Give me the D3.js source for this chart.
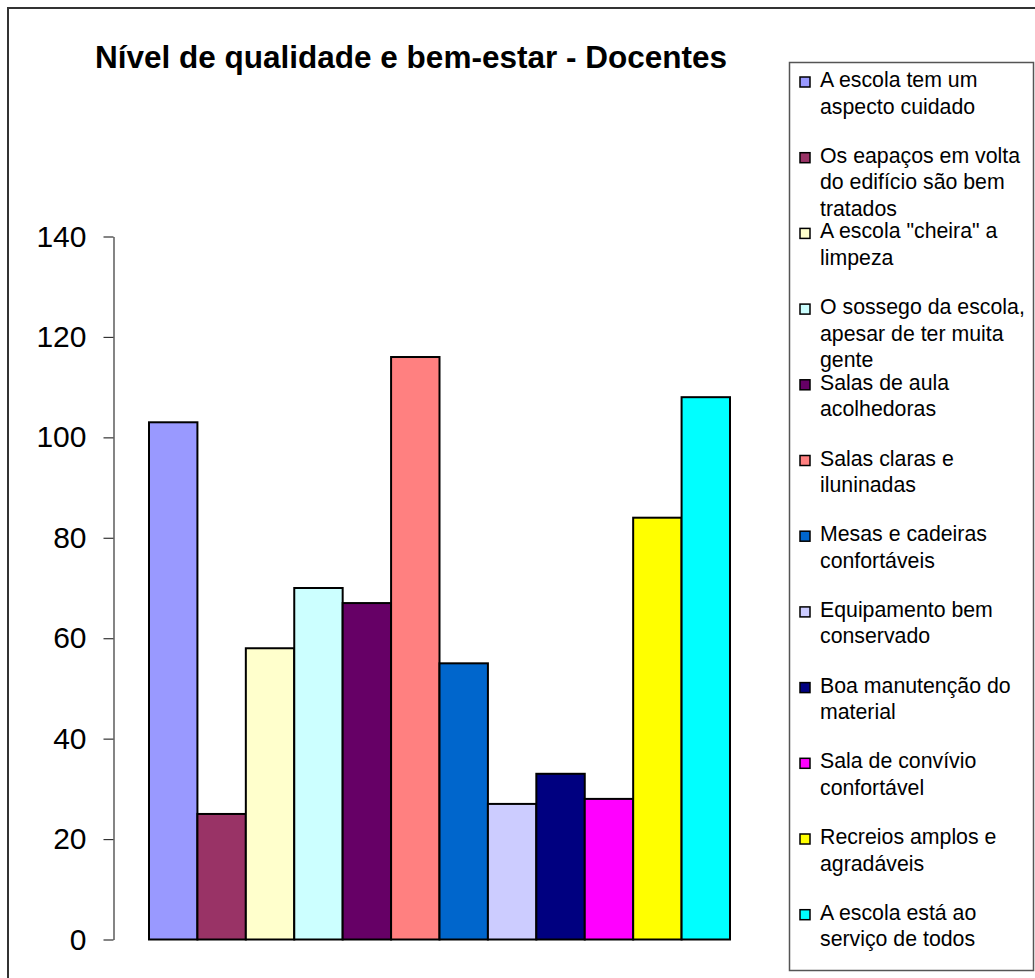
<!DOCTYPE html>
<html>
<head>
<meta charset="utf-8">
<script src="https://cdn.jsdelivr.net/npm/d3@7"></script>
<style>
  html, body { margin: 0; padding: 0; background: #fff; }
  svg { display: block; font-family: Arial, "Liberation Sans", sans-serif; }
</style>
</head>
<body>
<svg id="chart" width="1035" height="978"></svg>
<script>
// Survey results: quality and well-being as rated by teaching staff
const title = "Nível de qualidade e bem-estar - Docentes";

const categories = [
  "A escola tem um aspecto cuidado",
  "Os eapaços em volta do edifício são bem tratados",
  "A escola \"cheira\" a limpeza",
  "O sossego da escola, apesar de ter muita gente",
  "Salas de aula acolhedoras",
  "Salas claras e iluninadas",
  "Mesas e cadeiras confortáveis",
  "Equipamento bem conservado",
  "Boa manutenção do material",
  "Sala de convívio confortável",
  "Recreios amplos e agradáveis",
  "A escola está ao serviço de todos"
];

// Legend text broken into lines
const legendLines = [
  ["A escola tem um", "aspecto cuidado"],
  ["Os eapaços em volta", "do edifício são bem", "tratados"],
  ["A escola \"cheira\" a", "limpeza"],
  ["O sossego da escola,", "apesar de ter muita", "gente"],
  ["Salas de aula", "acolhedoras"],
  ["Salas claras e", "iluninadas"],
  ["Mesas e cadeiras", "confortáveis"],
  ["Equipamento bem", "conservado"],
  ["Boa manutenção do", "material"],
  ["Sala de convívio", "confortável"],
  ["Recreios amplos e", "agradáveis"],
  ["A escola está ao", "serviço de todos"]
];

const values = [103, 25, 58, 70, 67, 116, 55, 27, 33, 28, 84, 108];

const colors = ["#9999FF", "#993366", "#FFFFCC", "#CCFFFF", "#660066", "#FF8080",
                "#0066CC", "#CCCCFF", "#000080", "#FF00FF", "#FFFF00", "#00FFFF"];

const yTicks = [0, 20, 40, 60, 80, 100, 120, 140];

const svg = d3.select("#chart");

// Chart frame
svg.append("rect")
  .attr("x", 8).attr("y", 8)
  .attr("width", 1100).attr("height", 1100)
  .attr("fill", "none")
  .attr("stroke", "#333")
  .attr("stroke-width", 2);

// Title
svg.append("text")
  .attr("x", 411).attr("y", 68)
  .attr("text-anchor", "middle")
  .attr("font-size", 31.5)
  .attr("font-weight", "bold")
  .attr("fill", "#000")
  .text(title);

// Scales
const y = d3.scaleLinear().domain([0, 140]).range([939.5, 236.5]);
const x = d3.scaleBand().domain(d3.range(categories.length)).range([149, 730]).padding(0);

// Y axis
const yAxis = d3.axisLeft(y).tickValues(yTicks).tickSize(10).tickPadding(17).tickSizeOuter(0);
const gy = svg.append("g").attr("transform", "translate(113.5,0)").call(yAxis);
gy.select(".domain").attr("stroke", "#333").attr("stroke-width", 1.2);
gy.selectAll(".tick line").attr("stroke", "#333").attr("stroke-width", 1.2);
gy.selectAll(".tick text")
  .attr("font-size", 30)
  .attr("font-family", "Arial, 'Liberation Sans', sans-serif")
  .attr("fill", "#000");

// Bars
svg.append("g")
  .selectAll("rect")
  .data(values)
  .join("rect")
  .attr("x", (d, i) => x(i))
  .attr("y", d => y(d))
  .attr("width", x.bandwidth())
  .attr("height", d => y(0) - y(d))
  .attr("fill", (d, i) => colors[i])
  .attr("stroke", "#000")
  .attr("stroke-width", 2);

// Legend
svg.append("rect")
  .attr("x", 789.5).attr("y", 62.5)
  .attr("width", 244).attr("height", 908)
  .attr("fill", "#fff")
  .attr("stroke", "#555")
  .attr("stroke-width", 1.5);

const legend = svg.append("g");
const entry = legend.selectAll("g")
  .data(categories)
  .join("g")
  .attr("transform", (d, i) => `translate(0,${87 + i * 75.7})`);

entry.append("rect")
  .attr("x", 800).attr("y", -10)
  .attr("width", 10).attr("height", 10)
  .attr("fill", (d, i) => colors[i])
  .attr("stroke", "#000")
  .attr("stroke-width", 1.5);

entry.append("text")
  .attr("x", 820)
  .attr("font-size", 21.3)
  .attr("fill", "#000")
  .each(function (d, i) {
    d3.select(this).selectAll("tspan")
      .data(legendLines[i])
      .join("tspan")
      .attr("x", 820)
      .attr("dy", (t, j) => j === 0 ? 0 : 26.5)
      .text(t => t);
  });
</script>
</body>
</html>
